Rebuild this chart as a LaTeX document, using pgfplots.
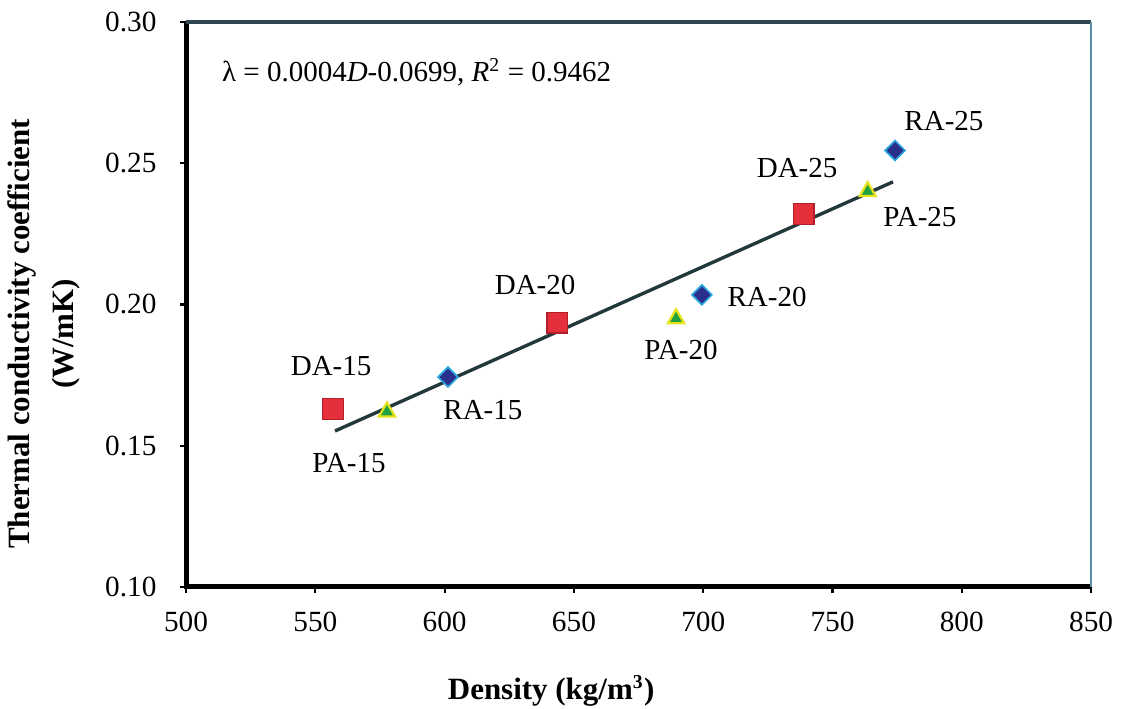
\documentclass[border=0pt]{standalone}
\usepackage{fontspec}
\setmainfont{Liberation Serif}
\usepackage{pgfplots}
\pgfplotsset{compat=1.18}

\definecolor{daRed}{HTML}{E5303C}
\definecolor{daEdge}{HTML}{B0202A}
\definecolor{raBlue}{HTML}{2B2F8C}
\definecolor{raEdge}{HTML}{2AA6DF}
\definecolor{paGreen}{HTML}{23A040}
\definecolor{paEdge}{HTML}{E6E21E}
\definecolor{fitCol}{HTML}{22383A}
\definecolor{topCol}{HTML}{2F4550}
\definecolor{rightCol}{HTML}{5A93AD}

\begin{document}
\begin{tikzpicture}
\begin{axis}[
  at={(0,0)}, anchor=south west,
  scale only axis, width=321.5pt, height=200.7pt,
  xmin=500, xmax=850, ymin=0.10, ymax=0.30,
  xtick={500,550,600,650,700,750,800,850},
  ytick={0.10,0.15,0.20,0.25,0.30},
  tick align=outside, xtick pos=bottom, ytick pos=left,
  major tick length=2pt,
  tick style={black, line width=0.8pt},
  axis line style={draw=none},
  clip=false,
  /pgf/number format/assume math mode=true,
  ticklabel style={font=\fontsize{10.4}{12}\selectfont},
  yticklabel style={xshift=-5pt, /pgf/number format/.cd, fixed, fixed zerofill, precision=2},
  xticklabel style={yshift=-3.4pt, /pgf/number format/.cd, 1000 sep={}},
]
% DA (squares)
\addplot[only marks, mark=square*, mark size=3.7pt,
  mark options={fill=daRed, draw=daEdge, line width=0.6pt, rounded corners=1pt}]
  coordinates {(556.8,0.1630) (643.5,0.1935) (738.9,0.2320)};
% RA (diamonds)
\addplot[only marks, mark=square*, mark size=2.5pt,
  mark options={fill=raBlue, draw=raEdge, line width=0.6pt, rotate=45, rounded corners=0.6pt}]
  coordinates {(601.3,0.1743) (699.5,0.2034) (774.2,0.2545)};
% PA (triangles)
\addplot[only marks, mark=triangle*, mark size=3.3pt,
  mark options={fill=paGreen, draw=paEdge, line width=0.8pt}]
  coordinates {(577.7,0.1620) (689.5,0.1950) (763.6,0.2400)};
% linear fit
\addplot[no marks, line width=1.2pt, color=fitCol]
  coordinates {(557.6,0.1552) (773.4,0.2434)};

% frame
\draw[line width=1.8pt, black] (rel axis cs:0,1) -- (rel axis cs:0,0) -- (rel axis cs:1,0);
\draw[line width=1.4pt, topCol] (rel axis cs:0,1) -- (rel axis cs:1,1);
\draw[line width=0.8pt, rightCol] (rel axis cs:1,0) -- (rel axis cs:1,1);

% point labels
\begin{scope}[every node/.style={font=\fontsize{10.3}{12}\selectfont}]
\node at (axis cs:556.1,0.1782) {DA-15};
\node at (axis cs:563.0,0.1439) {PA-15};
\node at (axis cs:614.8,0.1627) {RA-15};
\node at (axis cs:635.0,0.2069) {DA-20};
\node at (axis cs:691.4,0.1839) {PA-20};
\node at (axis cs:724.7,0.2027) {RA-20};
\node at (axis cs:736.3,0.2483) {DA-25};
\node at (axis cs:783.8,0.2310) {PA-25};
\node at (axis cs:793.1,0.2650) {RA-25};
\node[anchor=west] at (axis cs:510.1,0.2823)
  {λ = 0.0004\textit{D}-0.0699, \textit{R}\textsuperscript{\scriptsize 2} = 0.9462};
\end{scope}
\end{axis}

\node[rotate=90, align=center, font=\bfseries\fontsize{11}{15.6}\selectfont]
  at (-50.4pt,89.9pt) {Thermal conductivity coefficient\\(W/mK)};
\node[font=\bfseries\fontsize{11}{13}\selectfont]
  at (129.7pt,-36.9pt) {Density (kg/m\textsuperscript{\scriptsize 3})};

\pgfresetboundingbox
\path (-66.1pt,-43.3pt) rectangle (333.9pt,208.5pt);
\end{tikzpicture}
\end{document}
